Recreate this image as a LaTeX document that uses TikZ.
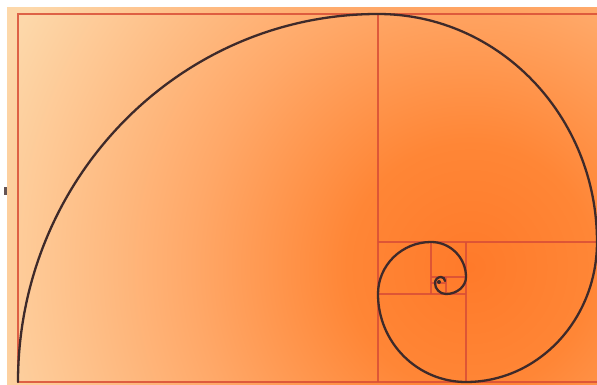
\documentclass[tikz,border=0pt]{standalone}
\definecolor{cA}{HTML}{FF7A2A}
\definecolor{cB}{HTML}{FF8636}
\definecolor{cC}{HTML}{FFA868}
\definecolor{cD}{HTML}{FDD8AA}
\definecolor{gridred}{HTML}{D94E36}
\definecolor{spiralc}{HTML}{3E2A2A}
\pgfdeclareradialshading{bgshade}{\pgfpoint{0bp}{0bp}}{color(0bp)=(cA); color(2.8bp)=(cB); color(6.3bp)=(cC); color(11.6bp)=(cD); color(50bp)=(cD)}
\tikzset{
  gridline/.style={draw=gridred, line width=1.15pt, opacity=0.85},
  spiral/.style={draw=spiralc, line width=2.3pt, line cap=round}
}
\begin{document}
\begin{tikzpicture}[x=1pt,y=1pt]
\useasboundingbox (0,0) rectangle (597,385);
\fill[white] (0,0) rectangle (597,385);
\begin{scope}
  \clip (7,0) rectangle (597,377);
  \shade[shading=bgshade] (470,118) circle (1100);
\end{scope}
\fill[spiralc!80] (4,190) rectangle (7,198);
\begin{scope}
  \clip (0,0) rectangle (597,385);
  % grid lines
  \draw[gridline] (18,3) rectangle (610,371);
  \draw[gridline] (378,3) -- (378,371);
  \draw[gridline] (378,143) -- (610,143);
  \draw[gridline] (466,3) -- (466,143);
  \draw[gridline] (378,91) -- (466,91);
  \draw[gridline] (431,91) -- (431,143);
  \draw[gridline] (431,108) -- (466,108);
  \draw[gridline] (446,91) -- (446,108);
  \draw[gridline] (431,102) -- (446,102);
  % spiral
  \draw[spiral] (18,3)
    arc[start angle=180, end angle=90, x radius=360, y radius=368]
    arc[start angle=90, end angle=0, x radius=219, y radius=228]
    arc[start angle=0, end angle=-90, x radius=131, y radius=140]
    arc[start angle=-90, end angle=-180, x radius=88, y radius=88]
    arc[start angle=180, end angle=90, x radius=53, y radius=52]
    arc[start angle=90, end angle=0, x radius=35, y radius=35]
    arc[start angle=0, end angle=-90, x radius=20, y radius=17]
    arc[start angle=-90, end angle=-180, x radius=11, y radius=11]
    arc[start angle=180, end angle=90, x radius=6, y radius=6]
    arc[start angle=90, end angle=0, x radius=4, y radius=4];
  \fill[spiralc] (439,103) circle (2);
\end{scope}
\end{tikzpicture}
\end{document}
